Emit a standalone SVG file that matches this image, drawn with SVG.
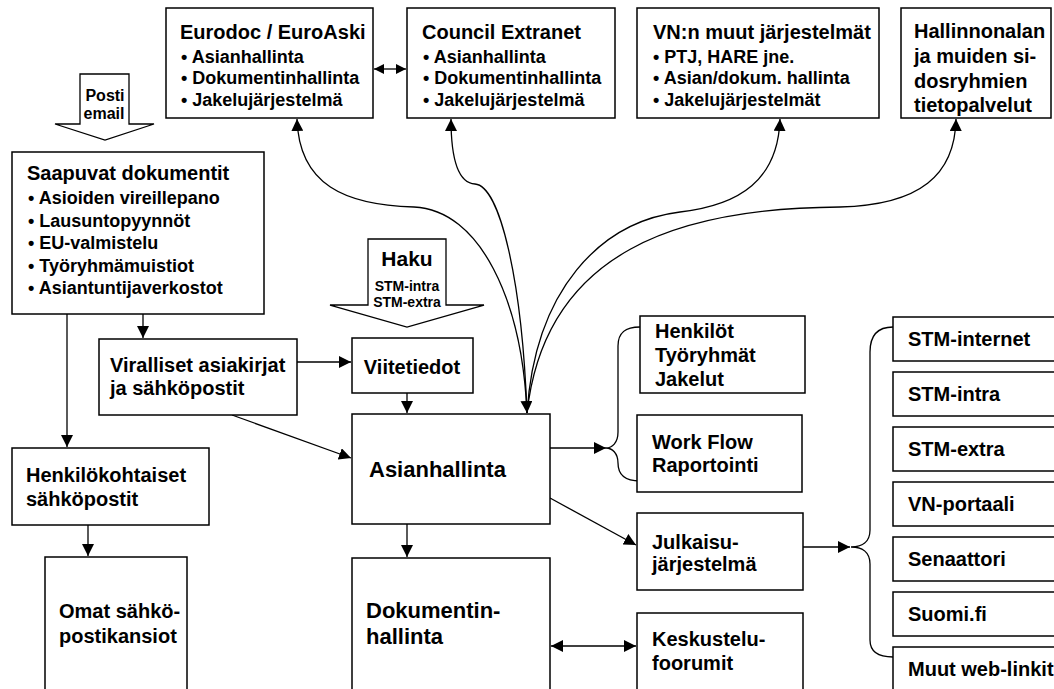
<svg xmlns="http://www.w3.org/2000/svg" width="1054" height="689" viewBox="0 0 1054 689">
  <defs>
    <style>
      text{font-family:"Liberation Sans",Arial,Helvetica,sans-serif;font-weight:bold;fill:#000}
      .box{fill:#fff;stroke:#000;stroke-width:1.5}
      .blk{fill:#fff;stroke:#000;stroke-width:1.3}
      .ln{fill:none;stroke:#000;stroke-width:1.3}
      .t14{font-size:14px}
      .t18{font-size:18px}
      .t20{font-size:20px}
      .t22{font-size:22px}
      .mid{text-anchor:middle}
    </style>
    <marker id="ah" markerWidth="12" markerHeight="12" refX="12" refY="6" orient="auto-start-reverse" markerUnits="userSpaceOnUse">
      <path d="M0,0 L12,6 L0,12 z" fill="#000"/>
    </marker>
    <marker id="ahs" markerWidth="10" markerHeight="10" refX="10" refY="5" orient="auto-start-reverse" markerUnits="userSpaceOnUse">
      <path d="M0,0 L10,5 L0,10 z" fill="#000"/>
    </marker>
  </defs>
  <rect width="1054" height="689" fill="#fff"/>

  <!-- connectors -->
  <g id="connectors">
    <!-- links from Asianhallinta up to the external systems -->
    <path class="ln" d="M297,119 C299,185 345,205 414,207 C480,210 522,300 527,413" marker-start="url(#ah)" marker-end="url(#ah)"/>
    <path class="ln" d="M451,119 C451,160 458,183 475,184 C500,186 522,280 527,413" marker-start="url(#ah)"/>
    <path class="ln" d="M780,119 C778,180 740,205 680,212 C600,222 535,290 527,413" marker-start="url(#ah)"/>
    <path class="ln" d="M956,119 C955,175 920,205 840,207 C680,208 545,250 527,413" marker-start="url(#ah)"/>
    <!-- Eurodoc <-> Council -->
    <path class="ln" d="M374,69 L406,69" marker-start="url(#ahs)" marker-end="url(#ahs)"/>
    <!-- left column -->
    <path class="ln" d="M67,314 L67,447" marker-end="url(#ah)"/>
    <path class="ln" d="M143,314 L143,338" marker-end="url(#ah)"/>
    <path class="ln" d="M297,362 L351,362" marker-end="url(#ah)"/>
    <path class="ln" d="M407,393 L407,413" marker-end="url(#ah)"/>
    <path class="ln" d="M232,415 L351,458" marker-end="url(#ah)"/>
    <path class="ln" d="M88,525 L88,556" marker-end="url(#ah)"/>
    <!-- Asianhallinta outputs -->
    <path class="ln" d="M407,524 L407,557" marker-end="url(#ah)"/>
    <path class="ln" d="M550,498 L636,545" marker-end="url(#ah)"/>
    <path class="ln" d="M551,646 L636,646" marker-start="url(#ah)" marker-end="url(#ah)"/>
    <path class="ln" d="M550,448 L606,448" marker-end="url(#ah)"/>
    <path class="ln" d="M640,327 C626,327 618,332 618,346 L618,432 C618,443 612,448 606,448 C612,448 618,453 618,463 C618,476 626,481 640,481"/>
    <!-- publishing channels -->
    <path class="ln" d="M803,547 L850,547" marker-end="url(#ah)"/>
    <path class="ln" d="M893,327 C878,327 870,335 870,352 L870,530 C870,542 862,547 851,547 C862,547 870,552 870,564 L870,640 C870,652 878,657 893,657"/>
  </g>

  <!-- top row -->
  <g id="eurodoc">
    <rect class="box" x="166" y="8" width="207" height="110"/>
    <text class="t20" x="180" y="39">Eurodoc / EuroAski</text>
    <text class="t18" x="181" y="63">• Asianhallinta</text>
    <text class="t18" x="181" y="84">• Dokumentinhallinta</text>
    <text class="t18" x="181" y="106">• Jakelujärjestelmä</text>
  </g>
  <g id="council">
    <rect class="box" x="407" y="8" width="208" height="110"/>
    <text class="t20" x="422" y="39">Council Extranet</text>
    <text class="t18" x="423" y="63">• Asianhallinta</text>
    <text class="t18" x="423" y="84">• Dokumentinhallinta</text>
    <text class="t18" x="423" y="106">• Jakelujärjestelmä</text>
  </g>
  <g id="vn-systems">
    <rect class="box" x="637" y="8" width="242" height="110"/>
    <text class="t20" x="653" y="39">VN:n muut järjestelmät</text>
    <text class="t18" x="653" y="63">• PTJ, HARE jne.</text>
    <text class="t18" x="653" y="84">• Asian/dokum. hallinta</text>
    <text class="t18" x="653" y="106">• Jakelujärjestelmät</text>
  </g>
  <g id="hallinnonala">
    <rect class="box" x="901" y="8" width="150" height="110"/>
    <text class="t20" x="914" y="38">Hallinnonalan</text>
    <text class="t20" x="914" y="63">ja muiden si-</text>
    <text class="t20" x="914" y="88">dosryhmien</text>
    <text class="t20" x="914" y="112">tietopalvelut</text>
  </g>

  <!-- inputs -->
  <g id="posti">
    <polygon class="blk" points="80,74 129,74 129,124 154,124 105,140 55,124 80,124"/>
    <text class="mid" x="105" y="101" style="font-size:16px">Posti</text>
    <text class="mid" x="104" y="119" style="font-size:16px">email</text>
  </g>
  <g id="haku">
    <polygon class="blk" points="368,239 446,239 446,305 484,305 407,327 330,305 368,305"/>
    <text class="mid" x="407" y="266" style="font-size:21px">Haku</text>
    <text class="t14 mid" x="407" y="291">STM-intra</text>
    <text class="t14 mid" x="407" y="307">STM-extra</text>
  </g>

  <!-- left column -->
  <g id="saapuvat">
    <rect class="box" x="12" y="152" width="252" height="162"/>
    <text class="t20" x="27" y="180">Saapuvat dokumentit</text>
    <text class="t18" x="28" y="204">• Asioiden vireillepano</text>
    <text class="t18" x="28" y="227">• Lausuntopyynnöt</text>
    <text class="t18" x="28" y="249">• EU-valmistelu</text>
    <text class="t18" x="28" y="272">• Työryhmämuistiot</text>
    <text class="t18" x="28" y="294">• Asiantuntijaverkostot</text>
  </g>
  <g id="viralliset">
    <rect class="box" x="99" y="339" width="198" height="76"/>
    <text class="t20" x="110" y="372">Viralliset asiakirjat</text>
    <text class="t20" x="110" y="395">ja sähköpostit</text>
  </g>
  <g id="viitetiedot">
    <rect class="box" x="352" y="338" width="121" height="55"/>
    <text class="t20 mid" x="412" y="374">Viitetiedot</text>
  </g>
  <g id="henkilokohtaiset">
    <rect class="box" x="12" y="448" width="197" height="77"/>
    <text class="t20" x="26" y="482">Henkilökohtaiset</text>
    <text class="t20" x="26" y="506">sähköpostit</text>
  </g>
  <g id="omat">
    <rect class="box" x="45" y="557" width="142" height="150"/>
    <text class="t20" x="59" y="618">Omat sähkö-</text>
    <text class="t20" x="59" y="643">postikansiot</text>
  </g>

  <!-- core -->
  <g id="asianhallinta">
    <rect class="box" x="352" y="414" width="198" height="110"/>
    <text class="t22" x="369" y="477">Asianhallinta</text>
  </g>
  <g id="dokumentinhallinta">
    <rect class="box" x="352" y="558" width="198" height="150"/>
    <text class="t22" x="366" y="618">Dokumentin-</text>
    <text class="t22" x="366" y="644">hallinta</text>
  </g>

  <!-- middle-right -->
  <g id="henkilot">
    <rect class="box" x="640" y="316" width="165" height="77"/>
    <text class="t20" x="655" y="338">Henkilöt</text>
    <text class="t20" x="655" y="362">Työryhmät</text>
    <text class="t20" x="655" y="386">Jakelut</text>
  </g>
  <g id="workflow">
    <rect class="box" x="637" y="415" width="165" height="77"/>
    <text class="t20" x="652" y="449">Work Flow</text>
    <text class="t20" x="652" y="472">Raportointi</text>
  </g>
  <g id="julkaisu">
    <rect class="box" x="637" y="513" width="166" height="77"/>
    <text class="t20" x="652" y="549">Julkaisu-</text>
    <text class="t20" x="652" y="571">järjestelmä</text>
  </g>
  <g id="keskustelu">
    <rect class="box" x="637" y="613" width="166" height="95"/>
    <text class="t20" x="652" y="646">Keskustelu-</text>
    <text class="t20" x="652" y="670">foorumit</text>
  </g>

  <!-- publishing channels -->
  <g id="stm-internet">
    <rect class="box" x="893" y="317" width="170" height="44"/>
    <text class="t20" x="908" y="346">STM-internet</text>
  </g>
  <g id="stm-intra">
    <rect class="box" x="893" y="372" width="170" height="44"/>
    <text class="t20" x="908" y="401">STM-intra</text>
  </g>
  <g id="stm-extra">
    <rect class="box" x="893" y="427" width="170" height="44"/>
    <text class="t20" x="908" y="456">STM-extra</text>
  </g>
  <g id="vn-portaali">
    <rect class="box" x="893" y="482" width="170" height="44"/>
    <text class="t20" x="908" y="511">VN-portaali</text>
  </g>
  <g id="senaattori">
    <rect class="box" x="893" y="537" width="170" height="44"/>
    <text class="t20" x="908" y="566">Senaattori</text>
  </g>
  <g id="suomi-fi">
    <rect class="box" x="893" y="592" width="170" height="44"/>
    <text class="t20" x="908" y="621">Suomi.fi</text>
  </g>
  <g id="muut-web-linkit">
    <rect class="box" x="893" y="647" width="170" height="60"/>
    <text class="t20" x="908" y="676">Muut web-linkit</text>
  </g>
</svg>
